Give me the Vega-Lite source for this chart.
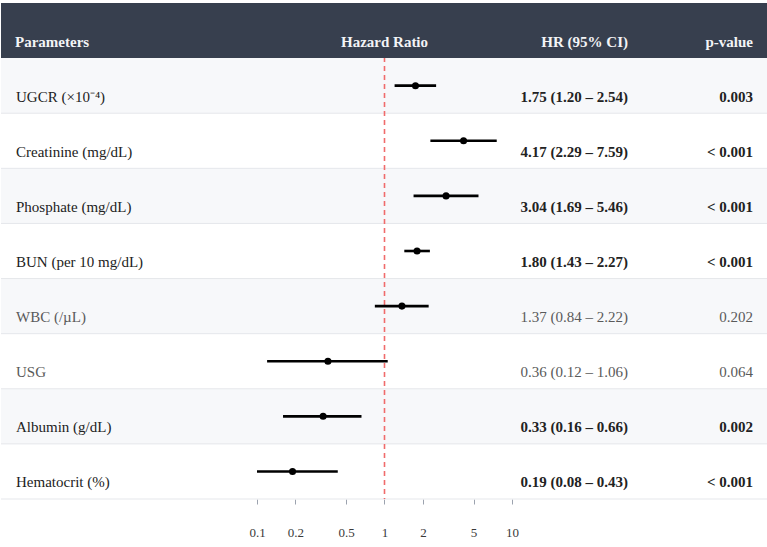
{
  "$schema": "https://vega.github.io/schema/vega-lite/v6.json",
  "padding": {"top": 2, "left": 0, "right": 0, "bottom": 0},
  "background": "white",
  "spacing": 0,
  "bounds": "flush",
  "config": {
    "view": {"stroke": null},
    "text": {"font": "Liberation Serif", "fontSize": 15, "baseline": "alphabetic", "dy": 16}
  },
  "datasets": {
    "rows": [
      {"order": 1, "param": "UGCR (×10⁻⁴)", "hr": 1.75, "lo": 1.20, "hi": 2.54, "p": "0.003", "significant": true},
      {"order": 2, "param": "Creatinine (mg/dL)", "hr": 4.17, "lo": 2.29, "hi": 7.59, "p": "< 0.001", "significant": true},
      {"order": 3, "param": "Phosphate (mg/dL)", "hr": 3.04, "lo": 1.69, "hi": 5.46, "p": "< 0.001", "significant": true},
      {"order": 4, "param": "BUN (per 10 mg/dL)", "hr": 1.80, "lo": 1.43, "hi": 2.27, "p": "< 0.001", "significant": true},
      {"order": 5, "param": "WBC (/µL)", "hr": 1.37, "lo": 0.84, "hi": 2.22, "p": "0.202", "significant": false},
      {"order": 6, "param": "USG", "hr": 0.36, "lo": 0.12, "hi": 1.06, "p": "0.064", "significant": false},
      {"order": 7, "param": "Albumin (g/dL)", "hr": 0.33, "lo": 0.16, "hi": 0.66, "p": "0.002", "significant": true},
      {"order": 8, "param": "Hematocrit (%)", "hr": 0.19, "lo": 0.08, "hi": 0.43, "p": "< 0.001", "significant": true}
    ],
    "head": [{"key": "_head"}]
  },
  "hconcat": [
    {
      "width": 256,
      "height": 496,
      "layer": [
        {
          "data": {"name": "rows"},
          "transform": [{"filter": "datum.order % 2 == 1"}],
          "mark": {"type": "rect", "color": "#f7f8fa"},
          "encoding": {
            "x": {"value": 0}, "x2": {"value": "width"},
            "y": {"field": "param", "type": "nominal", "axis": null,
                  "scale": {"domain": ["_head", "UGCR (×10⁻⁴)", "Creatinine (mg/dL)", "Phosphate (mg/dL)", "BUN (per 10 mg/dL)", "WBC (/µL)", "USG", "Albumin (g/dL)", "Hematocrit (%)"], "paddingInner": 0, "paddingOuter": 0}}
          }
        },
        {
          "data": {"name": "rows"},
          "mark": {"type": "rule", "color": "#e5e7eb", "strokeWidth": 1},
          "encoding": {
            "x": {"value": 0}, "x2": {"value": "width"},
            "y": {"field": "param", "type": "nominal", "bandPosition": 1, "axis": null}
          }
        },
        {
          "data": {"name": "head"},
          "mark": {"type": "rect", "color": "#373f4e"},
          "encoding": {
            "x": {"value": 0}, "x2": {"value": "width"},
            "y": {"field": "key", "type": "nominal", "axis": null}
          }
        },
        {
          "data": {"name": "head"},
          "mark": {"type": "text", "text": "Parameters", "align": "left", "dx": 14, "fontWeight": "bold", "color": "#f3f4f6"},
          "encoding": {
            "x": {"value": 0},
            "y": {"field": "key", "type": "nominal", "axis": null}
          }
        },
        {
          "data": {"name": "rows"},
          "mark": {"type": "text", "align": "left", "dx": 15},
          "encoding": {
            "x": {"value": 0},
            "y": {"field": "param", "type": "nominal", "axis": null},
            "text": {"field": "param"},
            "color": {"condition": {"test": "datum.significant", "value": "#222222"}, "value": "#5a5a5a"}
          }
        }
      ]
    },
    {
      "width": 255,
      "height": 496,
      "layer": [
        {
          "data": {"name": "rows"},
          "transform": [{"filter": "datum.order % 2 == 1"}],
          "mark": {"type": "rect", "color": "#f7f8fa"},
          "encoding": {
            "x": {"value": 0}, "x2": {"value": "width"},
            "y": {"field": "param", "type": "nominal", "axis": null,
                  "scale": {"domain": ["_head", "UGCR (×10⁻⁴)", "Creatinine (mg/dL)", "Phosphate (mg/dL)", "BUN (per 10 mg/dL)", "WBC (/µL)", "USG", "Albumin (g/dL)", "Hematocrit (%)"], "paddingInner": 0, "paddingOuter": 0}}
          }
        },
        {
          "data": {"name": "rows"},
          "mark": {"type": "rule", "color": "#e5e7eb", "strokeWidth": 1},
          "encoding": {
            "x": {"value": 0}, "x2": {"value": "width"},
            "y": {"field": "param", "type": "nominal", "bandPosition": 1, "axis": null}
          }
        },
        {
          "data": {"name": "head"},
          "mark": {"type": "rule", "color": "#f06b6b", "strokeWidth": 1.6, "strokeDash": [5, 4]},
          "encoding": {
            "x": {"datum": 1, "type": "quantitative", "scale": {"type": "log", "domain": [0.1, 10]},
                  "axis": {"values": [0.1, 0.2, 0.5, 1, 2, 5, 10], "format": "~g", "title": null, "domain": false, "grid": false, "tickColor": "#9ca3af", "tickSize": 5, "labelPadding": 22, "labelFlush": false, "labelFont": "Liberation Serif", "labelFontSize": 13, "labelColor": "#3a3a3a"}}
          }
        },
        {
          "data": {"name": "head"},
          "mark": {"type": "rect", "color": "#373f4e"},
          "encoding": {
            "x": {"value": 0}, "x2": {"value": "width"},
            "y": {"field": "key", "type": "nominal", "axis": null}
          }
        },
        {
          "data": {"name": "head"},
          "mark": {"type": "text", "text": "Hazard Ratio", "align": "center", "fontWeight": "bold", "color": "#f3f4f6"},
          "encoding": {
            "x": {"datum": 1, "type": "quantitative"},
            "y": {"field": "key", "type": "nominal", "axis": null}
          }
        },
        {
          "data": {"name": "rows"},
          "mark": {"type": "rule", "color": "black", "strokeWidth": 2.6, "clip": true},
          "encoding": {
            "x": {"field": "lo", "type": "quantitative"},
            "x2": {"field": "hi"},
            "y": {"field": "param", "type": "nominal", "axis": null}
          }
        },
        {
          "data": {"name": "rows"},
          "mark": {"type": "point", "shape": "circle", "filled": true, "color": "black", "opacity": 1, "size": 50},
          "encoding": {
            "x": {"field": "hr", "type": "quantitative"},
            "y": {"field": "param", "type": "nominal", "axis": null}
          }
        }
      ]
    },
    {
      "width": 116,
      "height": 496,
      "layer": [
        {
          "data": {"name": "rows"},
          "transform": [{"filter": "datum.order % 2 == 1"}],
          "mark": {"type": "rect", "color": "#f7f8fa"},
          "encoding": {
            "x": {"value": 0}, "x2": {"value": "width"},
            "y": {"field": "param", "type": "nominal", "axis": null,
                  "scale": {"domain": ["_head", "UGCR (×10⁻⁴)", "Creatinine (mg/dL)", "Phosphate (mg/dL)", "BUN (per 10 mg/dL)", "WBC (/µL)", "USG", "Albumin (g/dL)", "Hematocrit (%)"], "paddingInner": 0, "paddingOuter": 0}}
          }
        },
        {
          "data": {"name": "rows"},
          "mark": {"type": "rule", "color": "#e5e7eb", "strokeWidth": 1},
          "encoding": {
            "x": {"value": 0}, "x2": {"value": "width"},
            "y": {"field": "param", "type": "nominal", "bandPosition": 1, "axis": null}
          }
        },
        {
          "data": {"name": "head"},
          "mark": {"type": "rect", "color": "#373f4e"},
          "encoding": {
            "x": {"value": 0}, "x2": {"value": "width"},
            "y": {"field": "key", "type": "nominal", "axis": null}
          }
        },
        {
          "data": {"name": "head"},
          "mark": {"type": "text", "text": "HR (95% CI)", "align": "right", "fontWeight": "bold", "color": "#f3f4f6"},
          "encoding": {
            "x": {"value": "width"},
            "y": {"field": "key", "type": "nominal", "axis": null}
          }
        },
        {
          "data": {"name": "rows"},
          "transform": [
            {"filter": "datum.significant"},
            {"calculate": "format(datum.hr, '.2f') + ' (' + format(datum.lo, '.2f') + ' – ' + format(datum.hi, '.2f') + ')'", "as": "ci_label"}
          ],
          "mark": {"type": "text", "align": "right", "fontWeight": "bold", "color": "#222222"},
          "encoding": {
            "x": {"value": "width"},
            "y": {"field": "param", "type": "nominal", "axis": null},
            "text": {"field": "ci_label"}
          }
        },
        {
          "data": {"name": "rows"},
          "transform": [
            {"filter": "!datum.significant"},
            {"calculate": "format(datum.hr, '.2f') + ' (' + format(datum.lo, '.2f') + ' – ' + format(datum.hi, '.2f') + ')'", "as": "ci_label"}
          ],
          "mark": {"type": "text", "align": "right", "color": "#5a5a5a"},
          "encoding": {
            "x": {"value": "width"},
            "y": {"field": "param", "type": "nominal", "axis": null},
            "text": {"field": "ci_label"}
          }
        }
      ]
    },
    {
      "width": 140,
      "height": 496,
      "layer": [
        {
          "data": {"name": "rows"},
          "transform": [{"filter": "datum.order % 2 == 1"}],
          "mark": {"type": "rect", "color": "#f7f8fa"},
          "encoding": {
            "x": {"value": 0}, "x2": {"value": "width"},
            "y": {"field": "param", "type": "nominal", "axis": null,
                  "scale": {"domain": ["_head", "UGCR (×10⁻⁴)", "Creatinine (mg/dL)", "Phosphate (mg/dL)", "BUN (per 10 mg/dL)", "WBC (/µL)", "USG", "Albumin (g/dL)", "Hematocrit (%)"], "paddingInner": 0, "paddingOuter": 0}}
          }
        },
        {
          "data": {"name": "rows"},
          "mark": {"type": "rule", "color": "#e5e7eb", "strokeWidth": 1},
          "encoding": {
            "x": {"value": 0}, "x2": {"value": "width"},
            "y": {"field": "param", "type": "nominal", "bandPosition": 1, "axis": null}
          }
        },
        {
          "data": {"name": "head"},
          "mark": {"type": "rect", "color": "#373f4e"},
          "encoding": {
            "x": {"value": 0}, "x2": {"value": "width"},
            "y": {"field": "key", "type": "nominal", "axis": null}
          }
        },
        {
          "data": {"name": "head"},
          "mark": {"type": "text", "text": "p-value", "align": "right", "dx": -15, "fontWeight": "bold", "color": "#f3f4f6"},
          "encoding": {
            "x": {"value": "width"},
            "y": {"field": "key", "type": "nominal", "axis": null}
          }
        },
        {
          "data": {"name": "rows"},
          "transform": [{"filter": "datum.significant"}],
          "mark": {"type": "text", "align": "right", "dx": -15, "fontWeight": "bold", "color": "#222222"},
          "encoding": {
            "x": {"value": "width"},
            "y": {"field": "param", "type": "nominal", "axis": null},
            "text": {"field": "p"}
          }
        },
        {
          "data": {"name": "rows"},
          "transform": [{"filter": "!datum.significant"}],
          "mark": {"type": "text", "align": "right", "dx": -15, "color": "#5a5a5a"},
          "encoding": {
            "x": {"value": "width"},
            "y": {"field": "param", "type": "nominal", "axis": null},
            "text": {"field": "p"}
          }
        }
      ]
    }
  ]
}
